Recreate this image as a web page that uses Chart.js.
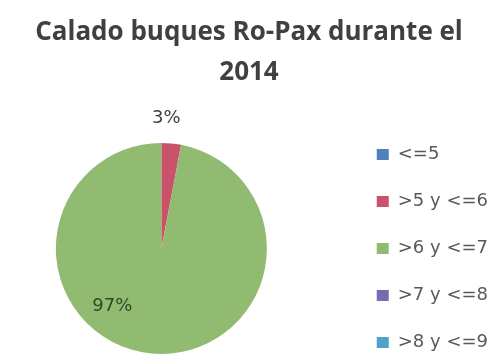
<!DOCTYPE html>
<html>
<head>
<meta charset="utf-8">
<title>Calado buques Ro-Pax 2014</title>
<script src="https://cdn.jsdelivr.net/npm/chart.js@4/dist/chart.umd.min.js"></script>
<style>
  html, body { margin: 0; padding: 0; background: #fff; }
  #wrap { width: 490px; height: 354px; position: relative; }
</style>
</head>
<body>
<div id="wrap"><canvas id="caladoChart"></canvas></div>
<script>
// ===== data =====
const categories = ['<=5', '>5 y <=6', '>6 y <=7', '>7 y <=8', '>8 y <=9'];
const shares = [0, 3, 97, 0, 0];          // % de buques por tramo de calado
const sliceColors = ['#4f81bd', '#c9536b', '#92bb72', '#7b6ab0', '#4fa3c8'];
const titleLines = ['Calado buques Ro-Pax durante el', '2014'];

// ===== percentage labels on the slices =====
const sliceLabels = {
    id: 'sliceLabels',
    afterDatasetsDraw(chart) {
        const ctx = chart.ctx;
        const meta = chart.getDatasetMeta(0);
        ctx.save();
        ctx.font = '18px "DejaVu Sans"';
        ctx.textAlign = 'center';
        ctx.textBaseline = 'middle';
        meta.data.forEach((arc, i) => {
            const v = shares[i];
            if (!v) return;
            const span = arc.endAngle - arc.startAngle;
            let a, r;
            if (v < 10) {
                // small slice: label outside the rim
                a = arc.startAngle + span * 0.2;
                r = arc.outerRadius + 25;
                ctx.fillStyle = '#404040';
            } else {
                a = arc.startAngle + span * 0.6;
                r = arc.outerRadius * 0.72;
                ctx.fillStyle = '#2c4a26';
            }
            ctx.fillText(v + '%', arc.x + Math.cos(a) * r, arc.y + Math.sin(a) * r);
        });
        ctx.restore();
    }
};

// ===== empty box between the pie and the legend, legend centred on the pie =====
const legendGap = {
    id: 'legendGap',
    beforeInit(chart) {
        Chart.layouts.addBox(chart, {
            position: 'right',
            weight: 0,
            fullSize: false,
            options: {},
            isHorizontal() { return false; },
            update(maxWidth, maxHeight) {
                this.width = 25;
                this.height = maxHeight;
            },
            draw() {}
        });
    },
    afterLayout(chart) {
        const lg = chart.legend;
        if (!lg) return;
        const area = chart.chartArea;
        const d = (area.top + area.bottom) / 2 - (lg.top + lg.bottom) / 2;
        lg.top += d;
        lg.bottom += d;
    }
};

const ctx = document.getElementById('caladoChart').getContext('2d');
new Chart(ctx, {
    type: 'pie',
    data: {
        labels: categories,
        datasets: [{
            data: shares,
            backgroundColor: sliceColors,
            borderWidth: 0
        }]
    },
    options: {
        responsive: true,
        maintainAspectRatio: false,
        animation: false,
        layout: { padding: { left: 0, right: -8, top: 0, bottom: 0 } },
        plugins: {
            title: {
                display: true,
                text: titleLines,
                color: '#404040',
                font: { family: '"Open Sans"', size: 26, weight: 'bold', lineHeight: 40 / 26 },
                padding: { top: 13, bottom: 50 }
            },
            legend: {
                position: 'right',
                maxWidth: 170,
                labels: {
                    color: '#595959',
                    font: { family: '"DejaVu Sans"', size: 18 },
                    boxWidth: 12,
                    boxHeight: 11,
                    padding: 29
                }
            },
            tooltip: { enabled: false }
        }
    },
    plugins: [sliceLabels, legendGap]
});
</script>
</body>
</html>
